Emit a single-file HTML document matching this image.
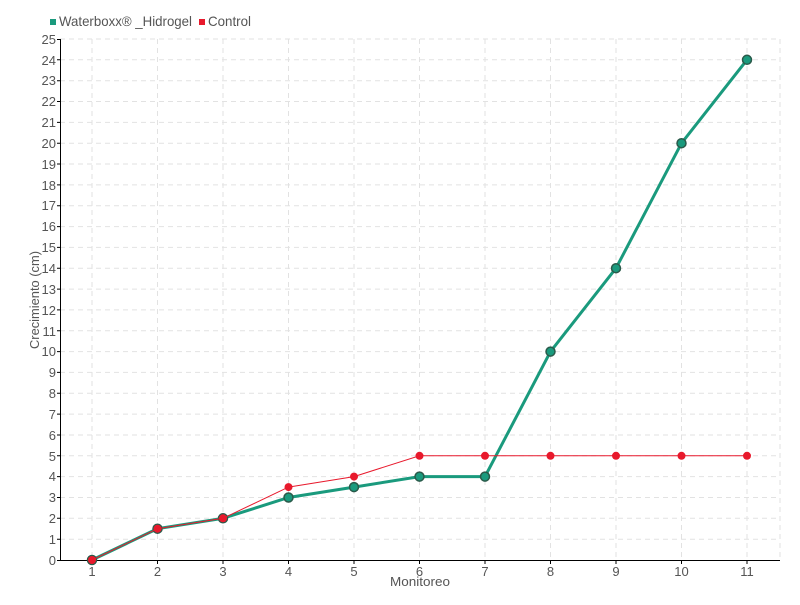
<!DOCTYPE html>
<html><head><meta charset="utf-8"><style>
body{margin:0;background:#fff;}
svg text{font-family:"Liberation Sans",sans-serif;fill:#555;font-size:13px;}
</style></head><body>
<svg width="800" height="600" xmlns="http://www.w3.org/2000/svg">
<g stroke="#e2e2e2" stroke-dasharray="5,4" stroke-width="1">
<line x1="60" x2="780" y1="539.2" y2="539.2"/><line x1="60" x2="780" y1="518.3" y2="518.3"/><line x1="60" x2="780" y1="497.5" y2="497.5"/><line x1="60" x2="780" y1="476.6" y2="476.6"/><line x1="60" x2="780" y1="455.8" y2="455.8"/><line x1="60" x2="780" y1="435" y2="435"/><line x1="60" x2="780" y1="414.1" y2="414.1"/><line x1="60" x2="780" y1="393.3" y2="393.3"/><line x1="60" x2="780" y1="372.4" y2="372.4"/><line x1="60" x2="780" y1="351.6" y2="351.6"/><line x1="60" x2="780" y1="330.8" y2="330.8"/><line x1="60" x2="780" y1="309.9" y2="309.9"/><line x1="60" x2="780" y1="289.1" y2="289.1"/><line x1="60" x2="780" y1="268.2" y2="268.2"/><line x1="60" x2="780" y1="247.4" y2="247.4"/><line x1="60" x2="780" y1="226.6" y2="226.6"/><line x1="60" x2="780" y1="205.7" y2="205.7"/><line x1="60" x2="780" y1="184.9" y2="184.9"/><line x1="60" x2="780" y1="164" y2="164"/><line x1="60" x2="780" y1="143.2" y2="143.2"/><line x1="60" x2="780" y1="122.4" y2="122.4"/><line x1="60" x2="780" y1="101.5" y2="101.5"/><line x1="60" x2="780" y1="80.7" y2="80.7"/><line x1="60" x2="780" y1="59.8" y2="59.8"/><line x1="60" x2="780" y1="39" y2="39"/>
<line x1="92" x2="92" y1="39" y2="560"/><line x1="157.5" x2="157.5" y1="39" y2="560"/><line x1="223" x2="223" y1="39" y2="560"/><line x1="288.5" x2="288.5" y1="39" y2="560"/><line x1="354" x2="354" y1="39" y2="560"/><line x1="419.5" x2="419.5" y1="39" y2="560"/><line x1="485" x2="485" y1="39" y2="560"/><line x1="550.5" x2="550.5" y1="39" y2="560"/><line x1="616" x2="616" y1="39" y2="560"/><line x1="681.5" x2="681.5" y1="39" y2="560"/><line x1="747" x2="747" y1="39" y2="560"/><line x1="780" x2="780" y1="39" y2="560"/>
</g>
<g stroke="#000" stroke-width="1">
<line x1="60.5" x2="60.5" y1="39" y2="561"/><line x1="60" x2="780" y1="560.5" y2="560.5"/>
<path d="M57 539.2h4M57 518.3h4M57 497.5h4M57 476.6h4M57 455.8h4M57 435h4M57 414.1h4M57 393.3h4M57 372.4h4M57 351.6h4M57 330.8h4M57 309.9h4M57 289.1h4M57 268.2h4M57 247.4h4M57 226.6h4M57 205.7h4M57 184.9h4M57 164h4M57 143.2h4M57 122.4h4M57 101.5h4M57 80.7h4M57 59.8h4M57 39.5h4M57 560.5h4"/>
<path d="M92 560v4M157.5 560v4M223 560v4M288.5 560v4M354 560v4M419.5 560v4M485 560v4M550.5 560v4M616 560v4M681.5 560v4M747 560v4"/>
</g>
<g text-anchor="end">
<text x="56" y="565">0</text><text x="56" y="544">1</text><text x="56" y="523">2</text><text x="56" y="502">3</text><text x="56" y="481">4</text><text x="56" y="461">5</text><text x="56" y="440">6</text><text x="56" y="419">7</text><text x="56" y="398">8</text><text x="56" y="377">9</text><text x="56" y="356">10</text><text x="56" y="336">11</text><text x="56" y="315">12</text><text x="56" y="294">13</text><text x="56" y="273">14</text><text x="56" y="252">15</text><text x="56" y="231">16</text><text x="56" y="210">17</text><text x="56" y="190">18</text><text x="56" y="169">19</text><text x="56" y="148">20</text><text x="56" y="127">21</text><text x="56" y="106">22</text><text x="56" y="85">23</text><text x="56" y="65">24</text><text x="56" y="44">25</text>
</g>
<g text-anchor="middle">
<text x="92" y="576">1</text><text x="157.5" y="576">2</text><text x="223" y="576">3</text><text x="288.5" y="576">4</text><text x="354" y="576">5</text><text x="419.5" y="576">6</text><text x="485" y="576">7</text><text x="550.5" y="576">8</text><text x="616" y="576">9</text><text x="681.5" y="576">10</text><text x="747" y="576">11</text>
<text x="420" y="586" textLength="60" lengthAdjust="spacingAndGlyphs">Monitoreo</text>
<text transform="translate(39,300) rotate(-90)" textLength="98" lengthAdjust="spacingAndGlyphs">Crecimiento (cm)</text>
</g>
<rect x="50" y="19" width="6" height="6" fill="#1a9a7d"/><text x="59" y="26" style="font-size:14px" textLength="133" lengthAdjust="spacingAndGlyphs">Waterboxx® _Hidrogel</text>
<rect x="199" y="19" width="6" height="6" fill="#e8192c"/><text x="208" y="26" style="font-size:14px" textLength="43" lengthAdjust="spacingAndGlyphs">Control</text>
<polyline fill="none" stroke="#1a9a7d" stroke-width="3" points="92,560 157.5,528.7 223,518.3 288.5,497.5 354,487.1 419.5,476.6 485,476.6 550.5,351.6 616,268.2 681.5,143.2 747,59.8"/>
<g fill="#1a9a7d" stroke="#2a5a4a" stroke-width="1.5">
<circle cx="92" cy="560" r="4.5"/><circle cx="157.5" cy="528.7" r="4.5"/><circle cx="223" cy="518.3" r="4.5"/><circle cx="288.5" cy="497.5" r="4.5"/><circle cx="354" cy="487.1" r="4.5"/><circle cx="419.5" cy="476.6" r="4.5"/><circle cx="485" cy="476.6" r="4.5"/><circle cx="550.5" cy="351.6" r="4.5"/><circle cx="616" cy="268.2" r="4.5"/><circle cx="681.5" cy="143.2" r="4.5"/><circle cx="747" cy="59.8" r="4.5"/>
</g>
<polyline fill="none" stroke="#e8192c" stroke-width="1" points="92,560 157.5,528.7 223,518.3 288.5,487.1 354,476.6 419.5,455.8 485,455.8 550.5,455.8 616,455.8 681.5,455.8 747,455.8"/>
<g fill="#e8192c">
<circle cx="92" cy="560" r="4"/><circle cx="157.5" cy="528.7" r="4"/><circle cx="223" cy="518.3" r="4"/><circle cx="288.5" cy="487.1" r="4"/><circle cx="354" cy="476.6" r="4"/><circle cx="419.5" cy="455.8" r="4"/><circle cx="485" cy="455.8" r="4"/><circle cx="550.5" cy="455.8" r="4"/><circle cx="616" cy="455.8" r="4"/><circle cx="681.5" cy="455.8" r="4"/><circle cx="747" cy="455.8" r="4"/>
</g>
</svg>
</body></html>
